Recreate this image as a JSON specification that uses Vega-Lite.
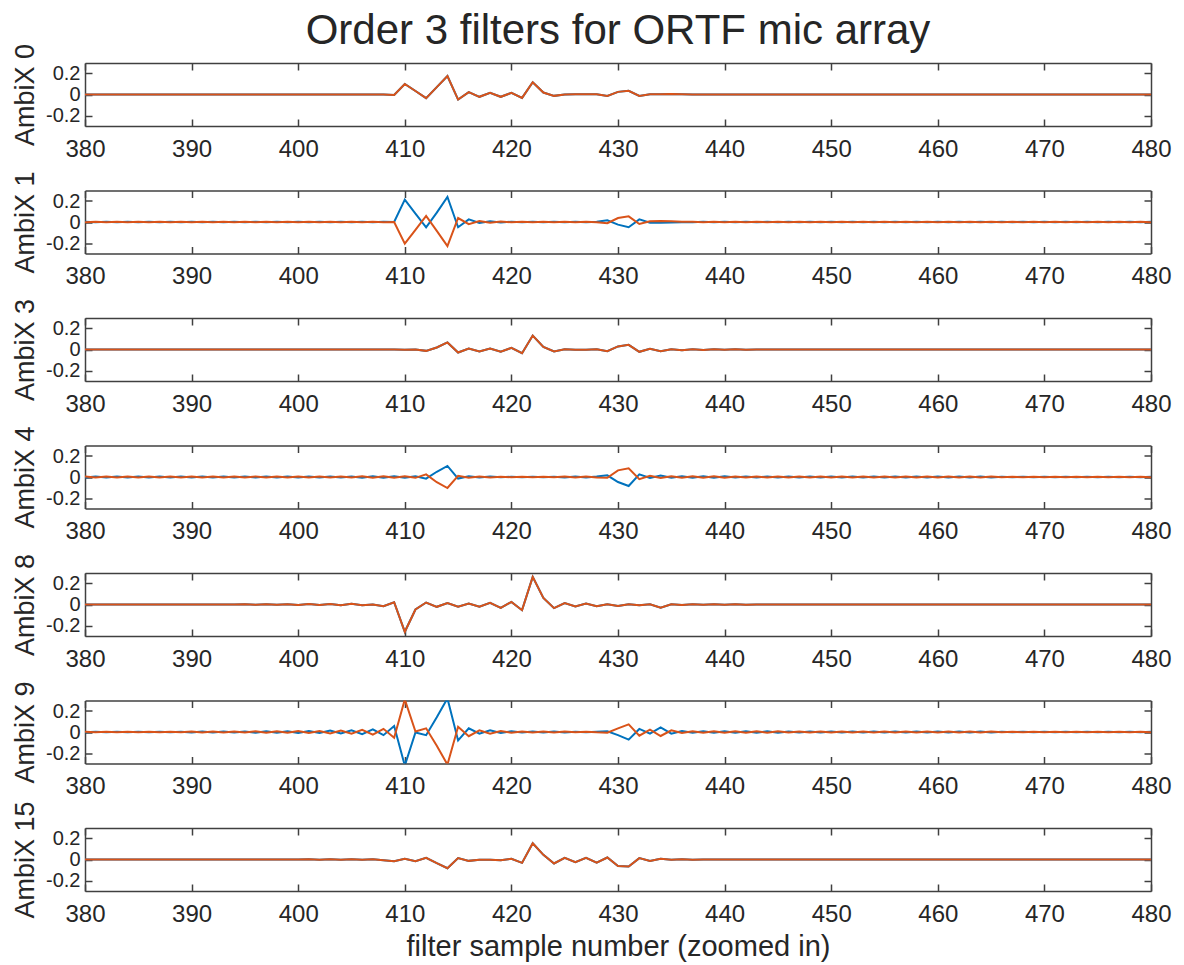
{
"$schema":"https://vega.github.io/schema/vega-lite/v6.json",
"padding":{"left":11,"top":10,"right":12,"bottom":4},
"data":{"values":[
{"n":380,"w0":0,"b1":0.0015,"o1":-0.0015,"w3":0,"b4":-0.004,"o4":0.004,"w8":0,"b9":-0.003,"o9":0.003,"w15":0},
{"n":381,"w0":0,"b1":-0.0015,"o1":0.0015,"w3":0,"b4":0.004,"o4":-0.004,"w8":0,"b9":0.003,"o9":-0.003,"w15":0},
{"n":382,"w0":0,"b1":0.0015,"o1":-0.0015,"w3":0,"b4":-0.004,"o4":0.004,"w8":0,"b9":-0.003,"o9":0.003,"w15":0},
{"n":383,"w0":0,"b1":-0.0015,"o1":0.0015,"w3":0,"b4":0.004,"o4":-0.004,"w8":0,"b9":0.003,"o9":-0.003,"w15":0},
{"n":384,"w0":0,"b1":0.0015,"o1":-0.0015,"w3":0,"b4":-0.004,"o4":0.004,"w8":0,"b9":-0.003,"o9":0.003,"w15":0},
{"n":385,"w0":0,"b1":-0.0015,"o1":0.0015,"w3":0,"b4":0.004,"o4":-0.004,"w8":0,"b9":0.003,"o9":-0.003,"w15":0},
{"n":386,"w0":0,"b1":0.0015,"o1":-0.0015,"w3":0,"b4":-0.004,"o4":0.004,"w8":0,"b9":-0.003,"o9":0.003,"w15":0},
{"n":387,"w0":0,"b1":-0.0015,"o1":0.0015,"w3":0,"b4":0.004,"o4":-0.004,"w8":0,"b9":0.003,"o9":-0.003,"w15":0},
{"n":388,"w0":0,"b1":0.0015,"o1":-0.0015,"w3":0,"b4":-0.004,"o4":0.004,"w8":0,"b9":-0.003,"o9":0.003,"w15":0},
{"n":389,"w0":0,"b1":-0.0015,"o1":0.0015,"w3":0,"b4":0.004,"o4":-0.004,"w8":0,"b9":0.003,"o9":-0.003,"w15":0},
{"n":390,"w0":0,"b1":0.0015,"o1":-0.0015,"w3":0,"b4":-0.004,"o4":0.004,"w8":0,"b9":-0.005,"o9":0.005,"w15":0},
{"n":391,"w0":0,"b1":-0.0015,"o1":0.0015,"w3":0,"b4":0.004,"o4":-0.004,"w8":0,"b9":0.005,"o9":-0.005,"w15":0},
{"n":392,"w0":0,"b1":0.0015,"o1":-0.0015,"w3":0,"b4":-0.004,"o4":0.004,"w8":0,"b9":-0.005,"o9":0.005,"w15":0},
{"n":393,"w0":0,"b1":-0.0015,"o1":0.0015,"w3":0,"b4":0.004,"o4":-0.004,"w8":0,"b9":0.005,"o9":-0.005,"w15":0},
{"n":394,"w0":0,"b1":0.0015,"o1":-0.0015,"w3":0,"b4":-0.004,"o4":0.004,"w8":0,"b9":-0.005,"o9":0.005,"w15":0},
{"n":395,"w0":0,"b1":-0.0015,"o1":0.0015,"w3":0,"b4":0.004,"o4":-0.004,"w8":0.002,"b9":0.005,"o9":-0.005,"w15":0},
{"n":396,"w0":0,"b1":0.0015,"o1":-0.0015,"w3":0,"b4":-0.005,"o4":0.005,"w8":-0.002,"b9":-0.007,"o9":0.007,"w15":0},
{"n":397,"w0":0,"b1":-0.0015,"o1":0.0015,"w3":0,"b4":0.005,"o4":-0.005,"w8":0.003,"b9":0.007,"o9":-0.007,"w15":0},
{"n":398,"w0":0,"b1":0.0015,"o1":-0.0015,"w3":0,"b4":-0.005,"o4":0.005,"w8":-0.003,"b9":-0.007,"o9":0.007,"w15":0},
{"n":399,"w0":0,"b1":-0.0015,"o1":0.0015,"w3":0,"b4":0.005,"o4":-0.005,"w8":0.003,"b9":0.007,"o9":-0.007,"w15":0},
{"n":400,"w0":0,"b1":0.0015,"o1":-0.0015,"w3":0,"b4":-0.005,"o4":0.005,"w8":-0.004,"b9":-0.01,"o9":0.01,"w15":0},
{"n":401,"w0":0,"b1":-0.0015,"o1":0.0015,"w3":0,"b4":0.005,"o4":-0.005,"w8":0.004,"b9":0.01,"o9":-0.01,"w15":0.002},
{"n":402,"w0":0,"b1":0.0015,"o1":-0.0015,"w3":0,"b4":-0.005,"o4":0.005,"w8":-0.005,"b9":-0.01,"o9":0.01,"w15":-0.002},
{"n":403,"w0":0,"b1":-0.0015,"o1":0.0015,"w3":0,"b4":0.005,"o4":-0.005,"w8":0.005,"b9":0.014,"o9":-0.014,"w15":0.003},
{"n":404,"w0":0,"b1":0.0015,"o1":-0.0015,"w3":0,"b4":-0.005,"o4":0.005,"w8":-0.006,"b9":-0.014,"o9":0.014,"w15":-0.003},
{"n":405,"w0":0,"b1":-0.0015,"o1":0.0015,"w3":0,"b4":0.005,"o4":-0.005,"w8":0.006,"b9":0.017,"o9":-0.017,"w15":0.003},
{"n":406,"w0":0,"b1":0.0015,"o1":-0.0015,"w3":0,"b4":-0.006,"o4":0.006,"w8":-0.006,"b9":-0.02,"o9":0.02,"w15":-0.003},
{"n":407,"w0":0,"b1":-0.0015,"o1":0.0015,"w3":0,"b4":0.006,"o4":-0.006,"w8":0,"b9":0.025,"o9":-0.025,"w15":0.003},
{"n":408,"w0":0,"b1":0.0015,"o1":-0.0015,"w3":0,"b4":-0.006,"o4":0.006,"w8":-0.016,"b9":-0.03,"o9":0.03,"w15":-0.006},
{"n":409,"w0":-0.004,"b1":0,"o1":0,"w3":0,"b4":0.006,"o4":-0.006,"w8":0.022,"b9":0.057,"o9":-0.054,"w15":-0.016},
{"n":410,"w0":0.1,"b1":0.213,"o1":-0.206,"w3":-0.003,"b4":-0.008,"o4":0.008,"w8":-0.26,"b9":-0.32,"o9":0.31,"w15":0.006},
{"n":411,"w0":0.033,"b1":0.08,"o1":-0.075,"w3":0,"b4":0.008,"o4":-0.008,"w8":-0.048,"b9":-0.005,"o9":0.005,"w15":-0.016},
{"n":412,"w0":-0.035,"b1":-0.05,"o1":0.057,"w3":-0.013,"b4":-0.016,"o4":0.025,"w8":0.019,"b9":-0.03,"o9":0.035,"w15":0.016},
{"n":413,"w0":0.07,"b1":0.09,"o1":-0.085,"w3":0.019,"b4":0.05,"o4":-0.05,"w8":-0.022,"b9":0.14,"o9":-0.13,"w15":-0.035},
{"n":414,"w0":0.175,"b1":0.238,"o1":-0.23,"w3":0.067,"b4":0.105,"o4":-0.105,"w8":0.013,"b9":0.32,"o9":-0.31,"w15":-0.083},
{"n":415,"w0":-0.048,"b1":-0.05,"o1":0.038,"w3":-0.029,"b4":-0.015,"o4":0.012,"w8":-0.022,"b9":-0.08,"o9":0.05,"w15":0.013},
{"n":416,"w0":0.022,"b1":0.025,"o1":-0.02,"w3":0.01,"b4":0.008,"o4":-0.008,"w8":0.01,"b9":0.035,"o9":-0.04,"w15":-0.013},
{"n":417,"w0":-0.022,"b1":-0.01,"o1":0.01,"w3":-0.019,"b4":-0.005,"o4":0.005,"w8":-0.022,"b9":-0.016,"o9":0.016,"w15":-0.003},
{"n":418,"w0":0.016,"b1":0.006,"o1":-0.006,"w3":0.01,"b4":0.004,"o4":-0.004,"w8":0.016,"b9":0.016,"o9":-0.016,"w15":-0.003},
{"n":419,"w0":-0.022,"b1":-0.004,"o1":0.004,"w3":-0.022,"b4":-0.002,"o4":0.002,"w8":-0.032,"b9":-0.01,"o9":0.01,"w15":-0.006},
{"n":420,"w0":0.016,"b1":0.003,"o1":-0.003,"w3":0.016,"b4":0.002,"o4":-0.002,"w8":0.025,"b9":0.008,"o9":-0.008,"w15":0.006},
{"n":421,"w0":-0.032,"b1":-0.002,"o1":0.002,"w3":-0.035,"b4":-0.002,"o4":0.002,"w8":-0.054,"b9":-0.005,"o9":0.005,"w15":-0.032},
{"n":422,"w0":0.117,"b1":0.002,"o1":-0.002,"w3":0.133,"b4":0.002,"o4":-0.002,"w8":0.263,"b9":0.005,"o9":-0.005,"w15":0.155},
{"n":423,"w0":0.019,"b1":-0.002,"o1":0.002,"w3":0.025,"b4":-0.002,"o4":0.002,"w8":0.063,"b9":-0.004,"o9":0.004,"w15":0.044},
{"n":424,"w0":-0.013,"b1":0.002,"o1":-0.002,"w3":-0.019,"b4":0.002,"o4":-0.002,"w8":-0.035,"b9":0.004,"o9":-0.004,"w15":-0.038},
{"n":425,"w0":0,"b1":-0.002,"o1":0.002,"w3":0.003,"b4":-0.004,"o4":0.004,"w8":0.013,"b9":-0.004,"o9":0.004,"w15":0.016},
{"n":426,"w0":0.002,"b1":0.002,"o1":-0.002,"w3":-0.003,"b4":0.004,"o4":-0.004,"w8":-0.019,"b9":0.003,"o9":-0.003,"w15":-0.025},
{"n":427,"w0":0.002,"b1":-0.002,"o1":0.002,"w3":-0.003,"b4":-0.004,"o4":0.004,"w8":0.01,"b9":-0.003,"o9":0.003,"w15":0.016},
{"n":428,"w0":0.003,"b1":0.002,"o1":-0.002,"w3":0.003,"b4":0.004,"o4":-0.004,"w8":-0.016,"b9":0.003,"o9":-0.003,"w15":-0.029},
{"n":429,"w0":-0.013,"b1":0.016,"o1":-0.012,"w3":-0.016,"b4":0.016,"o4":-0.008,"w8":0.003,"b9":0.006,"o9":-0.006,"w15":0.019},
{"n":430,"w0":0.025,"b1":-0.025,"o1":0.038,"w3":0.029,"b4":-0.048,"o4":0.063,"w8":-0.013,"b9":-0.03,"o9":0.035,"w15":-0.063},
{"n":431,"w0":0.035,"b1":-0.05,"o1":0.054,"w3":0.044,"b4":-0.086,"o4":0.083,"w8":0.003,"b9":-0.073,"o9":0.073,"w15":-0.067},
{"n":432,"w0":-0.013,"b1":0.025,"o1":-0.019,"w3":-0.022,"b4":0.025,"o4":-0.02,"w8":-0.006,"b9":0.029,"o9":-0.035,"w15":0.013},
{"n":433,"w0":0.003,"b1":-0.006,"o1":0.006,"w3":0.006,"b4":-0.01,"o4":0.012,"w8":0.003,"b9":-0.016,"o9":0.022,"w15":-0.013},
{"n":434,"w0":0.003,"b1":-0.006,"o1":0.01,"w3":-0.016,"b4":0.013,"o4":-0.01,"w8":-0.03,"b9":0.044,"o9":-0.038,"w15":0.006},
{"n":435,"w0":0.004,"b1":-0.005,"o1":0.006,"w3":0.003,"b4":-0.008,"o4":0.008,"w8":0.003,"b9":-0.016,"o9":0.016,"w15":-0.003},
{"n":436,"w0":0.002,"b1":-0.003,"o1":0.003,"w3":-0.006,"b4":0.006,"o4":-0.006,"w8":-0.005,"b9":0.01,"o9":-0.01,"w15":0.003},
{"n":437,"w0":0,"b1":-0.0015,"o1":0.0015,"w3":0.003,"b4":-0.006,"o4":0.006,"w8":0.003,"b9":-0.008,"o9":0.008,"w15":-0.002},
{"n":438,"w0":0,"b1":0.0015,"o1":-0.0015,"w3":-0.004,"b4":0.006,"o4":-0.006,"w8":-0.003,"b9":0.008,"o9":-0.008,"w15":0},
{"n":439,"w0":0,"b1":-0.0015,"o1":0.0015,"w3":0.002,"b4":-0.006,"o4":0.006,"w8":0.002,"b9":-0.008,"o9":0.008,"w15":0},
{"n":440,"w0":0,"b1":0.0015,"o1":-0.0015,"w3":-0.003,"b4":0.006,"o4":-0.006,"w8":-0.002,"b9":0.008,"o9":-0.008,"w15":0},
{"n":441,"w0":0,"b1":-0.0015,"o1":0.0015,"w3":0.002,"b4":-0.005,"o4":0.005,"w8":0.002,"b9":-0.006,"o9":0.006,"w15":0},
{"n":442,"w0":0,"b1":0.0015,"o1":-0.0015,"w3":-0.002,"b4":0.005,"o4":-0.005,"w8":-0.002,"b9":0.006,"o9":-0.006,"w15":0},
{"n":443,"w0":0,"b1":-0.0015,"o1":0.0015,"w3":0,"b4":-0.005,"o4":0.005,"w8":0,"b9":-0.006,"o9":0.006,"w15":0},
{"n":444,"w0":0,"b1":0.0015,"o1":-0.0015,"w3":0,"b4":0.005,"o4":-0.005,"w8":0,"b9":0.006,"o9":-0.006,"w15":0},
{"n":445,"w0":0,"b1":-0.0015,"o1":0.0015,"w3":0,"b4":-0.005,"o4":0.005,"w8":0,"b9":-0.006,"o9":0.006,"w15":0},
{"n":446,"w0":0,"b1":0.0015,"o1":-0.0015,"w3":0,"b4":0.005,"o4":-0.005,"w8":0,"b9":0.005,"o9":-0.005,"w15":0},
{"n":447,"w0":0,"b1":-0.0015,"o1":0.0015,"w3":0,"b4":-0.005,"o4":0.005,"w8":0,"b9":-0.005,"o9":0.005,"w15":0},
{"n":448,"w0":0,"b1":0.0015,"o1":-0.0015,"w3":0,"b4":0.005,"o4":-0.005,"w8":0,"b9":0.005,"o9":-0.005,"w15":0},
{"n":449,"w0":0,"b1":-0.0015,"o1":0.0015,"w3":0,"b4":-0.005,"o4":0.005,"w8":0,"b9":-0.005,"o9":0.005,"w15":0},
{"n":450,"w0":0,"b1":0.0015,"o1":-0.0015,"w3":0,"b4":0.005,"o4":-0.005,"w8":0,"b9":0.005,"o9":-0.005,"w15":0},
{"n":451,"w0":0,"b1":-0.0015,"o1":0.0015,"w3":0,"b4":-0.004,"o4":0.004,"w8":0,"b9":-0.005,"o9":0.005,"w15":0},
{"n":452,"w0":0,"b1":0.0015,"o1":-0.0015,"w3":0,"b4":0.004,"o4":-0.004,"w8":0,"b9":0.005,"o9":-0.005,"w15":0},
{"n":453,"w0":0,"b1":-0.0015,"o1":0.0015,"w3":0,"b4":-0.004,"o4":0.004,"w8":0,"b9":-0.005,"o9":0.005,"w15":0},
{"n":454,"w0":0,"b1":0.0015,"o1":-0.0015,"w3":0,"b4":0.004,"o4":-0.004,"w8":0,"b9":0.005,"o9":-0.005,"w15":0},
{"n":455,"w0":0,"b1":-0.0015,"o1":0.0015,"w3":0,"b4":-0.004,"o4":0.004,"w8":0,"b9":-0.005,"o9":0.005,"w15":0},
{"n":456,"w0":0,"b1":0.0015,"o1":-0.0015,"w3":0,"b4":0.004,"o4":-0.004,"w8":0,"b9":0.004,"o9":-0.004,"w15":0},
{"n":457,"w0":0,"b1":-0.0015,"o1":0.0015,"w3":0,"b4":-0.004,"o4":0.004,"w8":0,"b9":-0.004,"o9":0.004,"w15":0},
{"n":458,"w0":0,"b1":0.0015,"o1":-0.0015,"w3":0,"b4":0.004,"o4":-0.004,"w8":0,"b9":0.004,"o9":-0.004,"w15":0},
{"n":459,"w0":0,"b1":-0.0015,"o1":0.0015,"w3":0,"b4":-0.004,"o4":0.004,"w8":0,"b9":-0.004,"o9":0.004,"w15":0},
{"n":460,"w0":0,"b1":0.0015,"o1":-0.0015,"w3":0,"b4":0.004,"o4":-0.004,"w8":0,"b9":0.004,"o9":-0.004,"w15":0},
{"n":461,"w0":0,"b1":-0.0015,"o1":0.0015,"w3":0,"b4":-0.004,"o4":0.004,"w8":0,"b9":-0.004,"o9":0.004,"w15":0},
{"n":462,"w0":0,"b1":0.0015,"o1":-0.0015,"w3":0,"b4":0.004,"o4":-0.004,"w8":0,"b9":0.004,"o9":-0.004,"w15":0},
{"n":463,"w0":0,"b1":-0.0015,"o1":0.0015,"w3":0,"b4":-0.004,"o4":0.004,"w8":0,"b9":-0.004,"o9":0.004,"w15":0},
{"n":464,"w0":0,"b1":0.0015,"o1":-0.0015,"w3":0,"b4":0.004,"o4":-0.004,"w8":0,"b9":0.004,"o9":-0.004,"w15":0},
{"n":465,"w0":0,"b1":-0.0015,"o1":0.0015,"w3":0,"b4":-0.004,"o4":0.004,"w8":0,"b9":-0.004,"o9":0.004,"w15":0},
{"n":466,"w0":0,"b1":0.0015,"o1":-0.0015,"w3":0,"b4":0.003,"o4":-0.003,"w8":0,"b9":0.003,"o9":-0.003,"w15":0},
{"n":467,"w0":0,"b1":-0.0015,"o1":0.0015,"w3":0,"b4":-0.003,"o4":0.003,"w8":0,"b9":-0.003,"o9":0.003,"w15":0},
{"n":468,"w0":0,"b1":0.0015,"o1":-0.0015,"w3":0,"b4":0.003,"o4":-0.003,"w8":0,"b9":0.003,"o9":-0.003,"w15":0},
{"n":469,"w0":0,"b1":-0.0015,"o1":0.0015,"w3":0,"b4":-0.003,"o4":0.003,"w8":0,"b9":-0.003,"o9":0.003,"w15":0},
{"n":470,"w0":0,"b1":0.0015,"o1":-0.0015,"w3":0,"b4":0.003,"o4":-0.003,"w8":0,"b9":0.003,"o9":-0.003,"w15":0},
{"n":471,"w0":0,"b1":-0.0015,"o1":0.0015,"w3":0,"b4":-0.003,"o4":0.003,"w8":0,"b9":-0.003,"o9":0.003,"w15":0},
{"n":472,"w0":0,"b1":0.0015,"o1":-0.0015,"w3":0,"b4":0.003,"o4":-0.003,"w8":0,"b9":0.003,"o9":-0.003,"w15":0},
{"n":473,"w0":0,"b1":-0.0015,"o1":0.0015,"w3":0,"b4":-0.003,"o4":0.003,"w8":0,"b9":-0.003,"o9":0.003,"w15":0},
{"n":474,"w0":0,"b1":0.0015,"o1":-0.0015,"w3":0,"b4":0.003,"o4":-0.003,"w8":0,"b9":0.003,"o9":-0.003,"w15":0},
{"n":475,"w0":0,"b1":-0.0015,"o1":0.0015,"w3":0,"b4":-0.003,"o4":0.003,"w8":0,"b9":-0.003,"o9":0.003,"w15":0},
{"n":476,"w0":0,"b1":0.0015,"o1":-0.0015,"w3":0,"b4":0.003,"o4":-0.003,"w8":0,"b9":0.003,"o9":-0.003,"w15":0},
{"n":477,"w0":0,"b1":-0.0015,"o1":0.0015,"w3":0,"b4":-0.003,"o4":0.003,"w8":0,"b9":-0.003,"o9":0.003,"w15":0},
{"n":478,"w0":0,"b1":0.0015,"o1":-0.0015,"w3":0,"b4":0.003,"o4":-0.003,"w8":0,"b9":0.003,"o9":-0.003,"w15":0},
{"n":479,"w0":0,"b1":-0.0015,"o1":0.0015,"w3":0,"b4":-0.003,"o4":0.003,"w8":0,"b9":-0.003,"o9":0.003,"w15":0},
{"n":480,"w0":0,"b1":0.0015,"o1":-0.0015,"w3":0,"b4":0.003,"o4":-0.003,"w8":0,"b9":0.003,"o9":-0.003,"w15":0}
]},
"spacing":64.5,
"bounds":"flush",
"vconcat":[
{"width":1066,"height":63,
 "title":{"text":"Order 3 filters for ORTF mic array","fontSize":42,"fontWeight":"normal","color":"#262626","offset":-10,"anchor":"middle"},
 "layer":[
  {"mark":{"type":"line","color":"#0072BD","strokeWidth":2,"clip":true},
   "encoding":{"x":{"field":"n","type":"quantitative","scale":{"domain":[380,480],"nice":false,"zero":false},"axis":{"orient":"bottom","title":null,"values":[380,390,400,410,420,430,440,450,460,470,480]}},
               "y":{"field":"w0","type":"quantitative","scale":{"domain":[-0.3,0.3],"nice":false},"axis":{"orient":"left","title":"AmbiX 0","values":[-0.2,0,0.2]}}}},
  {"mark":{"type":"line","color":"#D95319","strokeWidth":2,"clip":true},
   "encoding":{"x":{"field":"n","type":"quantitative","scale":{"domain":[380,480],"nice":false,"zero":false},"axis":{"orient":"top","title":null,"labels":false,"values":[380,390,400,410,420,430,440,450,460,470,480]}},
               "y":{"field":"w0","type":"quantitative","scale":{"domain":[-0.3,0.3],"nice":false},"axis":{"orient":"right","title":null,"labels":false,"values":[-0.2,0,0.2]}}}}
 ],
 "resolve":{"axis":{"x":"independent","y":"independent"}}},
{"width":1066,"height":63,
 "layer":[
  {"mark":{"type":"line","color":"#0072BD","strokeWidth":2,"clip":true},
   "encoding":{"x":{"field":"n","type":"quantitative","scale":{"domain":[380,480],"nice":false,"zero":false},"axis":{"orient":"bottom","title":null,"values":[380,390,400,410,420,430,440,450,460,470,480]}},
               "y":{"field":"b1","type":"quantitative","scale":{"domain":[-0.3,0.3],"nice":false},"axis":{"orient":"left","title":"AmbiX 1","values":[-0.2,0,0.2]}}}},
  {"mark":{"type":"line","color":"#D95319","strokeWidth":2,"clip":true},
   "encoding":{"x":{"field":"n","type":"quantitative","scale":{"domain":[380,480],"nice":false,"zero":false},"axis":{"orient":"top","title":null,"labels":false,"values":[380,390,400,410,420,430,440,450,460,470,480]}},
               "y":{"field":"o1","type":"quantitative","scale":{"domain":[-0.3,0.3],"nice":false},"axis":{"orient":"right","title":null,"labels":false,"values":[-0.2,0,0.2]}}}}
 ],
 "resolve":{"axis":{"x":"independent","y":"independent"}}},
{"width":1066,"height":63,
 "layer":[
  {"mark":{"type":"line","color":"#0072BD","strokeWidth":2,"clip":true},
   "encoding":{"x":{"field":"n","type":"quantitative","scale":{"domain":[380,480],"nice":false,"zero":false},"axis":{"orient":"bottom","title":null,"values":[380,390,400,410,420,430,440,450,460,470,480]}},
               "y":{"field":"w3","type":"quantitative","scale":{"domain":[-0.3,0.3],"nice":false},"axis":{"orient":"left","title":"AmbiX 3","values":[-0.2,0,0.2]}}}},
  {"mark":{"type":"line","color":"#D95319","strokeWidth":2,"clip":true},
   "encoding":{"x":{"field":"n","type":"quantitative","scale":{"domain":[380,480],"nice":false,"zero":false},"axis":{"orient":"top","title":null,"labels":false,"values":[380,390,400,410,420,430,440,450,460,470,480]}},
               "y":{"field":"w3","type":"quantitative","scale":{"domain":[-0.3,0.3],"nice":false},"axis":{"orient":"right","title":null,"labels":false,"values":[-0.2,0,0.2]}}}}
 ],
 "resolve":{"axis":{"x":"independent","y":"independent"}}},
{"width":1066,"height":63,
 "layer":[
  {"mark":{"type":"line","color":"#0072BD","strokeWidth":2,"clip":true},
   "encoding":{"x":{"field":"n","type":"quantitative","scale":{"domain":[380,480],"nice":false,"zero":false},"axis":{"orient":"bottom","title":null,"values":[380,390,400,410,420,430,440,450,460,470,480]}},
               "y":{"field":"b4","type":"quantitative","scale":{"domain":[-0.3,0.3],"nice":false},"axis":{"orient":"left","title":"AmbiX 4","values":[-0.2,0,0.2]}}}},
  {"mark":{"type":"line","color":"#D95319","strokeWidth":2,"clip":true},
   "encoding":{"x":{"field":"n","type":"quantitative","scale":{"domain":[380,480],"nice":false,"zero":false},"axis":{"orient":"top","title":null,"labels":false,"values":[380,390,400,410,420,430,440,450,460,470,480]}},
               "y":{"field":"o4","type":"quantitative","scale":{"domain":[-0.3,0.3],"nice":false},"axis":{"orient":"right","title":null,"labels":false,"values":[-0.2,0,0.2]}}}}
 ],
 "resolve":{"axis":{"x":"independent","y":"independent"}}},
{"width":1066,"height":63,
 "layer":[
  {"mark":{"type":"line","color":"#0072BD","strokeWidth":2,"clip":true},
   "encoding":{"x":{"field":"n","type":"quantitative","scale":{"domain":[380,480],"nice":false,"zero":false},"axis":{"orient":"bottom","title":null,"values":[380,390,400,410,420,430,440,450,460,470,480]}},
               "y":{"field":"w8","type":"quantitative","scale":{"domain":[-0.3,0.3],"nice":false},"axis":{"orient":"left","title":"AmbiX 8","values":[-0.2,0,0.2]}}}},
  {"mark":{"type":"line","color":"#D95319","strokeWidth":2,"clip":true},
   "encoding":{"x":{"field":"n","type":"quantitative","scale":{"domain":[380,480],"nice":false,"zero":false},"axis":{"orient":"top","title":null,"labels":false,"values":[380,390,400,410,420,430,440,450,460,470,480]}},
               "y":{"field":"w8","type":"quantitative","scale":{"domain":[-0.3,0.3],"nice":false},"axis":{"orient":"right","title":null,"labels":false,"values":[-0.2,0,0.2]}}}}
 ],
 "resolve":{"axis":{"x":"independent","y":"independent"}}},
{"width":1066,"height":63,
 "layer":[
  {"mark":{"type":"line","color":"#0072BD","strokeWidth":2,"clip":true},
   "encoding":{"x":{"field":"n","type":"quantitative","scale":{"domain":[380,480],"nice":false,"zero":false},"axis":{"orient":"bottom","title":null,"values":[380,390,400,410,420,430,440,450,460,470,480]}},
               "y":{"field":"b9","type":"quantitative","scale":{"domain":[-0.3,0.3],"nice":false},"axis":{"orient":"left","title":"AmbiX 9","values":[-0.2,0,0.2]}}}},
  {"mark":{"type":"line","color":"#D95319","strokeWidth":2,"clip":true},
   "encoding":{"x":{"field":"n","type":"quantitative","scale":{"domain":[380,480],"nice":false,"zero":false},"axis":{"orient":"top","title":null,"labels":false,"values":[380,390,400,410,420,430,440,450,460,470,480]}},
               "y":{"field":"o9","type":"quantitative","scale":{"domain":[-0.3,0.3],"nice":false},"axis":{"orient":"right","title":null,"labels":false,"values":[-0.2,0,0.2]}}}}
 ],
 "resolve":{"axis":{"x":"independent","y":"independent"}}},
{"width":1066,"height":63,
 "layer":[
  {"mark":{"type":"line","color":"#0072BD","strokeWidth":2,"clip":true},
   "encoding":{"x":{"field":"n","type":"quantitative","scale":{"domain":[380,480],"nice":false,"zero":false},"axis":{"orient":"bottom","title":"filter sample number (zoomed in)","values":[380,390,400,410,420,430,440,450,460,470,480]}},
               "y":{"field":"w15","type":"quantitative","scale":{"domain":[-0.3,0.3],"nice":false},"axis":{"orient":"left","title":"AmbiX 15","values":[-0.2,0,0.2]}}}},
  {"mark":{"type":"line","color":"#D95319","strokeWidth":2,"clip":true},
   "encoding":{"x":{"field":"n","type":"quantitative","scale":{"domain":[380,480],"nice":false,"zero":false},"axis":{"orient":"top","title":null,"labels":false,"values":[380,390,400,410,420,430,440,450,460,470,480]}},
               "y":{"field":"w15","type":"quantitative","scale":{"domain":[-0.3,0.3],"nice":false},"axis":{"orient":"right","title":null,"labels":false,"values":[-0.2,0,0.2]}}}}
 ],
 "resolve":{"axis":{"x":"independent","y":"independent"}}}
],
"config":{
 "font":"Liberation Sans",
 "view":{"stroke":null},
 "axis":{"grid":false,"domainColor":"#404040","domainWidth":1.5,"tickColor":"#404040","tickWidth":1.5,"tickSize":-7,"labelFont":"Liberation Sans","labelFontSize":24,"labelColor":"#262626","labelPadding":18,"labelFlush":false,"labelOverlap":false,"titleFont":"Liberation Sans","titleFontSize":27,"titleFontWeight":"normal","titleColor":"#262626"},
 "axisLeft":{"labelExpr":"datum.value > 0.1 ? '0.2' : (datum.value < -0.1 ? '-0.2' : '0')","titlePadding":6,"labelPadding":12,"labelFontSize":20},
 "axisTop":{"minExtent":0},
 "axisBottom":{"titlePadding":6,"titleFontSize":29},
 "title":{"font":"Liberation Sans"}
}
}
